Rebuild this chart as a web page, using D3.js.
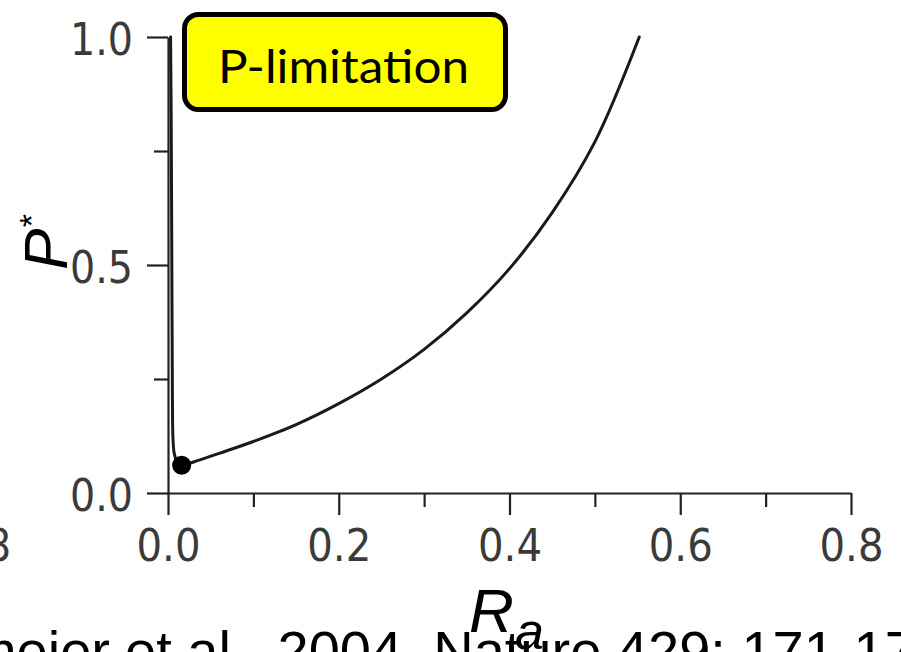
<!DOCTYPE html>
<html>
<head>
<meta charset="utf-8">
<script src="https://cdn.jsdelivr.net/npm/d3@7/dist/d3.min.js"></script>
<style>
  html, body { margin: 0; padding: 0; background: #fff; overflow: hidden; }
  svg { display: block; }
</style>
</head>
<body>
<div id="chart"></div>
<script>
// Axis ticks
const xMajorTicks = [0, 0.2, 0.4, 0.6, 0.8];
const xMinorTicks = [0.1, 0.3, 0.5, 0.7];
const yMajorTicks = [0, 0.5, 1.0];
const yMinorTicks = [0.25, 0.75];

// Equilibrium P* as a function of allocation R_a
// (steep branch hugging the axis, then the rising branch to the right)
const raValues = [0.003, 0.0038, 0.0046, 0.0052, 0.0058, 0.0072, 0.0105, 0.016,
                  0.030, 0.060, 0.100, 0.150, 0.200, 0.250, 0.300, 0.350,
                  0.400, 0.450, 0.500, 0.552];
const pValues  = [1.0, 0.80, 0.45, 0.20, 0.12, 0.088, 0.069, 0.061,
                  0.068, 0.087, 0.113, 0.150, 0.196, 0.250, 0.315, 0.395,
                  0.492, 0.615, 0.770, 1.0];

// Optimal allocation (minimum P*)
const optimumRa = [0.016];
const optimumP = [0.061];

const boxLabel = "P-limitation";
const citationHead = "Klausmeier";
const citationTail = "et al., 2004, Nature 429: 171-174";

const W = 901, H = 652;
const svg = d3.select("#chart").append("svg")
  .attr("width", W).attr("height", H);

const x = d3.scaleLinear().domain([0, 0.8]).range([168, 851]);
const y = d3.scaleLinear().domain([0, 1]).range([493, 37]);

const tickFont = "'DejaVu Sans', Verdana, sans-serif";
const axisColor = "#222";
const labelColor = "#3a3a3a";

// ---- x axis ----
const xAxis = svg.append("g")
  .attr("transform", `translate(0,${y(0)})`)
  .call(d3.axisBottom(x).tickValues(xMajorTicks).tickSize(22).tickSizeOuter(0)
        .tickPadding(14).tickFormat(d3.format(".1f")));
svg.append("g")
  .attr("transform", `translate(0,${y(0)})`)
  .call(d3.axisBottom(x).tickValues(xMinorTicks).tickSize(14).tickFormat(""))
  .call(g => g.select(".domain").remove());

// ---- y axis ----
const yAxis = svg.append("g")
  .attr("transform", `translate(${x(0)},0)`)
  .call(d3.axisLeft(y).tickValues(yMajorTicks).tickSize(21).tickSizeOuter(0)
        .tickPadding(14).tickFormat(d3.format(".1f")));
svg.append("g")
  .attr("transform", `translate(${x(0)},0)`)
  .call(d3.axisLeft(y).tickValues(yMinorTicks).tickSize(14).tickFormat(""))
  .call(g => g.select(".domain").remove());

svg.selectAll(".domain, .tick line")
  .attr("stroke", axisColor).attr("stroke-width", 2.2);

xAxis.selectAll(".tick text")
  .attr("font-family", tickFont).attr("font-size", 45).attr("fill", labelColor)
  .attr("textLength", 64).attr("lengthAdjust", "spacingAndGlyphs");
yAxis.selectAll(".tick text")
  .attr("font-family", tickFont).attr("font-size", 45).attr("fill", labelColor)
  .attr("dy", "0.39em")
  .attr("textLength", 63).attr("lengthAdjust", "spacingAndGlyphs");

// Right end of the neighbouring panel's last tick label
svg.append("text")
  .attr("x", 11).attr("y", 561)
  .attr("text-anchor", "end")
  .attr("font-family", tickFont).attr("font-size", 45).attr("fill", labelColor)
  .attr("textLength", 64).attr("lengthAdjust", "spacingAndGlyphs")
  .text("0.8");

// ---- curve ----
const pts = raValues.map((r, i) => [r, pValues[i]]);
const line = d3.line()
  .x(d => x(d[0])).y(d => y(d[1]))
  .curve(d3.curveCatmullRom.alpha(0.5));
svg.append("path")
  .datum(pts)
  .attr("d", line)
  .attr("fill", "none")
  .attr("stroke", "#1a1a1a")
  .attr("stroke-width", 3)
  .attr("stroke-linejoin", "round")
  .attr("stroke-linecap", "round");

svg.selectAll("circle.opt")
  .data(optimumRa.map((r, i) => [r, optimumP[i]]))
  .join("circle")
  .attr("class", "opt")
  .attr("cx", d => x(d[0])).attr("cy", d => y(d[1]))
  .attr("r", 9.5).attr("fill", "#000");

// ---- axis titles ----
const italic = "'Liberation Sans', Arial, Helvetica, sans-serif";
const xTitle = svg.append("text")
  .attr("x", 469).attr("y", 632)
  .attr("font-family", italic).attr("font-style", "italic")
  .attr("font-size", 62).attr("fill", "#000");
xTitle.append("tspan").text("R");
xTitle.append("tspan").attr("x", 515).attr("y", 649)
  .attr("font-size", 52).text("a");

const yTitle = svg.append("text")
  .attr("transform", "translate(67,270) rotate(-90)")
  .attr("font-family", italic).attr("font-style", "italic")
  .attr("font-size", 62).attr("fill", "#000");
yTitle.append("tspan").text("P");
yTitle.append("tspan").attr("dy", -24).attr("font-size", 34).text("*");

// ---- annotation box ----
svg.append("rect")
  .attr("x", 184.5).attr("y", 14.5).attr("width", 321).attr("height", 95)
  .attr("rx", 14).attr("ry", 14)
  .attr("fill", "#ffff00").attr("stroke", "#000").attr("stroke-width", 5);
svg.append("text")
  .attr("x", 218).attr("y", 83)
  .attr("font-family", "Lato, 'Open Sans', sans-serif")
  .attr("font-size", 46).attr("fill", "#000")
  .attr("textLength", 251).attr("lengthAdjust", "spacingAndGlyphs")
  .text(boxLabel);

// ---- citation along the bottom edge ----
const citeFont = "'Liberation Sans', Arial, sans-serif";
svg.append("text")
  .attr("x", 110).attr("y", 670).attr("text-anchor", "end")
  .attr("font-family", citeFont).attr("font-size", 56).attr("fill", "#000")
  .text(citationHead);
svg.append("text")
  .attr("x", 125).attr("y", 670)
  .attr("font-family", citeFont).attr("font-size", 56).attr("fill", "#000")
  .text(citationTail);
</script>
</body>
</html>
